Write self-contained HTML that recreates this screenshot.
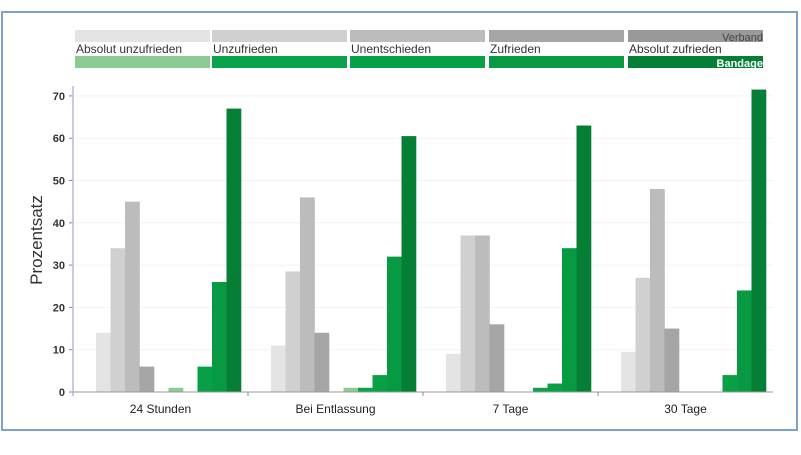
<!DOCTYPE html>
<html><head><meta charset="utf-8"><style>
body{margin:0;background:#fff;width:801px;height:450px;overflow:hidden;font-family:"Liberation Sans",sans-serif}
</style></head><body>
<svg width="801" height="450">
<rect x="2" y="12" width="795" height="418" fill="#fff" stroke="#7ba3c8" stroke-width="2"/>
<g id="legend"></g>
<g id="grid"></g>
<g id="bars"></g>
<g id="axes"></g>
<text x="42" y="240" transform="rotate(-90 42 240)" text-anchor="middle" font-size="17" fill="#333">Prozentsatz</text>
</svg>
<script>
const categories=["24 Stunden","Bei Entlassung","7 Tage","30 Tage"];
const ratingLabels=["Absolut unzufrieden","Unzufrieden","Unentschieden","Zufrieden","Absolut zufrieden"];
const verband=[[14,34,45,6,0],[11,28.5,46,14,0],[9,37,37,16,0],[9.5,27,48,15,0]];
const bandage=[[1,0,6,26,67],[1,1,4,32,60.5],[0,1,2,34,63],[0,0,4,24,71.5]];
const yTicks=[0,10,20,30,40,50,60,70];
const grays=["#e4e4e4","#d0d0d0","#bcbcbc","#a5a5a5","#999"];
const greens=["#8ccb93","#0aa24a","#08a046","#079a42","#067f36"];
const NS="http://www.w3.org/2000/svg";
const x0=73,x1=773,yBase=392,yPer=4.23;
const y=v=>yBase-v*yPer;
const gw=(x1-x0)/categories.length,bw=14.5;
function mk(t,a,p){const e=document.createElementNS(NS,t);for(const k in a)e.setAttribute(k,a[k]);p.appendChild(e);return e;}
const grid=document.getElementById('grid'),bars=document.getElementById('bars'),axes=document.getElementById('axes'),leg=document.getElementById('legend');
yTicks.forEach(t=>{
 if(t>0){const l=mk('line',{x1:x0+2,x2:x1,y1:y(t),y2:y(t),stroke:'#f2f2f2','stroke-width':1},grid);
 
 }
 mk('line',{x1:x0-4,x2:x0,y1:y(t),y2:y(t),stroke:'#888'},axes);
 const tx=mk('text',{x:x0-8,y:y(t)+4,'text-anchor':'end','font-size':11,'font-weight':'bold',fill:'#333'},axes);
 tx.textContent=t;
 
 
});
const ax=mk('line',{x1:x0,x2:x0,y1:86,y2:396,stroke:'#b8b8e0','stroke-width':1.5},axes);


const bl=mk('line',{x1:x0,x2:x1,y1:yBase,y2:yBase,stroke:'#999','stroke-width':1},axes);


categories.forEach((c,i)=>{
 const gx=x0+i*gw,sx=gx+23;
 if(i>0)mk('line',{x1:gx,x2:gx,y1:yBase,y2:yBase+4,stroke:'#888'},axes);
 verband[i].forEach((v,j)=>{
  const r=mk('rect',{x:sx+j*bw,y:y(v),width:bw+0.3,height:v*yPer,fill:grays[j]},bars);
  
  
 });
 bandage[i].forEach((v,j)=>{
  const r=mk('rect',{x:sx+(5+j)*bw,y:y(v),width:bw+0.3,height:v*yPer,fill:greens[j]},bars);
  
  
 });
 const t=mk('text',{x:gx+gw/2,y:413,'text-anchor':'middle','font-size':12,fill:'#222'},axes);
 t.textContent=c;
 
 
});
const lx=[75,212,350,489,628],lw=135;
ratingLabels.forEach((l,j)=>{
 mk('rect',{x:lx[j],y:30,width:lw,height:12,fill:grays[j]},leg);
 mk('rect',{x:lx[j],y:56,width:lw,height:12,fill:greens[j]},leg);
 const t=mk('text',{x:lx[j]+1,y:53,'font-size':12,fill:'#333'},leg);
 t.textContent=l;
 
 
});
const v=mk('text',{x:763,y:41,'text-anchor':'end','font-size':11,fill:'#444'},leg);v.textContent='Verband';


const b=mk('text',{x:763,y:67,'text-anchor':'end','font-size':11,'font-weight':'bold',fill:'#fff'},leg);b.textContent='Bandage';


</script>
</body></html>
